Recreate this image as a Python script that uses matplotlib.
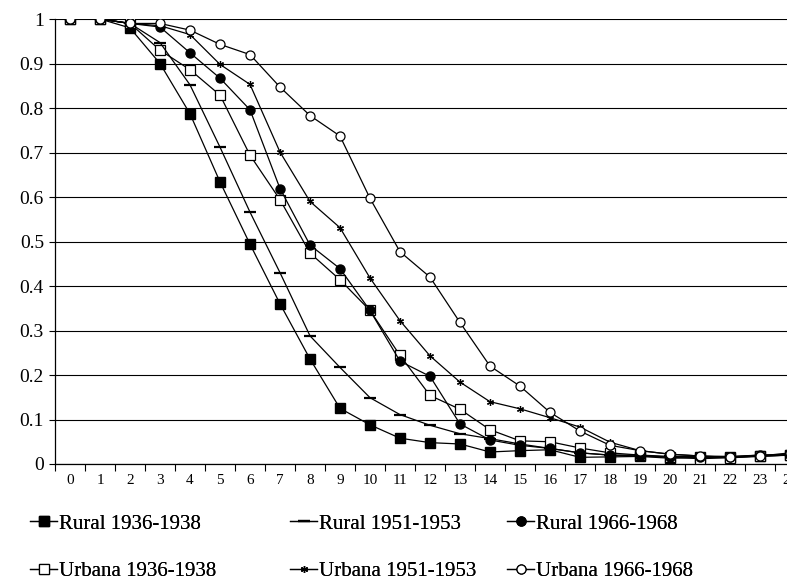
import matplotlib
matplotlib.use("Agg")
import matplotlib.pyplot as plt
import numpy as np

plt.rcParams['font.family'] = ['Liberation Serif', 'DejaVu Serif']

categories = list(range(25))
y_ticks = [0, 0.1, 0.2, 0.3, 0.4, 0.5, 0.6, 0.7, 0.8, 0.9, 1]
y_tick_labels = ["0", "0.1", "0.2", "0.3", "0.4", "0.5", "0.6", "0.7", "0.8", "0.9", "1"]

rural_1936 = [1.0, 1.0, 0.98, 0.90, 0.787, 0.634, 0.494, 0.36, 0.236, 0.125, 0.088, 0.058,
              0.048, 0.045, 0.027, 0.03, 0.032, 0.015, 0.016, 0.017, 0.013, 0.015, 0.015, 0.018, 0.02]
rural_1951 = [1.0, 1.0, 0.99, 0.947, 0.852, 0.712, 0.566, 0.43, 0.288, 0.217, 0.149, 0.111,
              0.087, 0.068, 0.057, 0.045, 0.035, 0.025, 0.02, 0.02, 0.017, 0.017, 0.016, 0.018, 0.02]
rural_1966 = [1.0, 1.0, 0.99, 0.982, 0.924, 0.867, 0.796, 0.619, 0.492, 0.439, 0.345, 0.231,
              0.197, 0.09, 0.054, 0.042, 0.035, 0.025, 0.02, 0.018, 0.015, 0.016, 0.016, 0.02, 0.02]
urbana_1936 = [1.0, 1.0, 0.99, 0.93, 0.886, 0.829, 0.694, 0.594, 0.474, 0.414, 0.345, 0.244,
               0.154, 0.123, 0.077, 0.052, 0.05, 0.036, 0.025, 0.02, 0.015, 0.012, 0.014, 0.017, 0.02]
urbana_1951 = [1.0, 1.0, 0.99, 0.985, 0.965, 0.898, 0.853, 0.701, 0.590, 0.531, 0.418, 0.322,
               0.243, 0.184, 0.14, 0.124, 0.104, 0.083, 0.049, 0.03, 0.022, 0.018, 0.017, 0.02, 0.022]
urbana_1966 = [1.0, 1.0, 0.99, 0.99, 0.975, 0.943, 0.92, 0.847, 0.783, 0.737, 0.597, 0.477,
               0.420, 0.318, 0.22, 0.175, 0.116, 0.074, 0.042, 0.03, 0.022, 0.018, 0.015, 0.018, 0.025]

labels = ["Rural 1936-1938", "Urbana 1936-1938", "Rural 1951-1953",
          "Urbana 1951-1953", "Rural 1966-1968", "Urbana 1966-1968"]

fig = plt.figure(figsize=(7.87, 5.82), dpi=100)
ax = fig.add_axes([55/787, 1 - 464/582, 750/787, 445/582])

lw = 0.9
h0, = ax.plot(categories, rural_1936, color='black', lw=lw, marker='s', ms=6.5,
              mfc='black', mec='black', label=labels[0], zorder=3)
h1, = ax.plot(categories, urbana_1936, color='black', lw=lw, marker='s', ms=6.5,
              mfc='white', mec='black', mew=0.9, label=labels[1], zorder=3)
h2, = ax.plot(categories, rural_1951, color='black', lw=lw, marker='_', ms=8,
              mew=1.6, label=labels[2], zorder=3)
h3, = ax.plot(categories, urbana_1951, color='black', lw=lw, marker=(6, 2, 0), ms=5,
              mew=0.9, label=labels[3], zorder=3)
h4, = ax.plot(categories, rural_1966, color='black', lw=lw, marker='o', ms=6.5,
              mfc='black', mec='black', label=labels[4], zorder=3)
h5, = ax.plot(categories, urbana_1966, color='black', lw=lw, marker='o', ms=6.5,
              mfc='white', mec='black', mew=0.9, label=labels[5], zorder=3)

ax.set_xlim(-0.5, 24.5)
ax.set_ylim(0, 1)
ax.set_yticks(y_ticks)
ax.set_yticklabels(y_tick_labels, fontsize=14)
ax.yaxis.grid(True, color='black', linewidth=0.8)
ax.set_axisbelow(True)

ax.set_xticks(np.arange(-0.5, 25, 1))
ax.set_xticklabels([])
ax.set_xticks(categories, minor=True)
ax.set_xticklabels([str(c) for c in categories], minor=True, fontsize=11)
ax.tick_params(axis='x', which='major', direction='out', length=5, width=0.8, color='black')
ax.tick_params(axis='x', which='minor', length=0, pad=7)
ax.tick_params(axis='y', direction='out', length=4, width=0.8, pad=4)

for s in ['top', 'right']:
    ax.spines[s].set_visible(False)
for s in ['left', 'bottom']:
    ax.spines[s].set_color('black')
    ax.spines[s].set_linewidth(0.9)

legend_cols = [([h0, h1], [labels[0], labels[1]], 30),
               ([h2, h3], [labels[2], labels[3]], 290),
               ([h4, h5], [labels[4], labels[5]], 507)]
for hs, ls, xpx in legend_cols:
    leg = fig.legend(hs, ls, ncol=1, loc='upper left',
                     bbox_to_anchor=(xpx/787, 1 - 514/582),
                     frameon=False, fontsize=15, handlelength=1.3, handletextpad=0.1,
                     labelspacing=1.35, borderpad=0, borderaxespad=0)
    fig.add_artist(leg)

fig.savefig("out.png", dpi=100)
